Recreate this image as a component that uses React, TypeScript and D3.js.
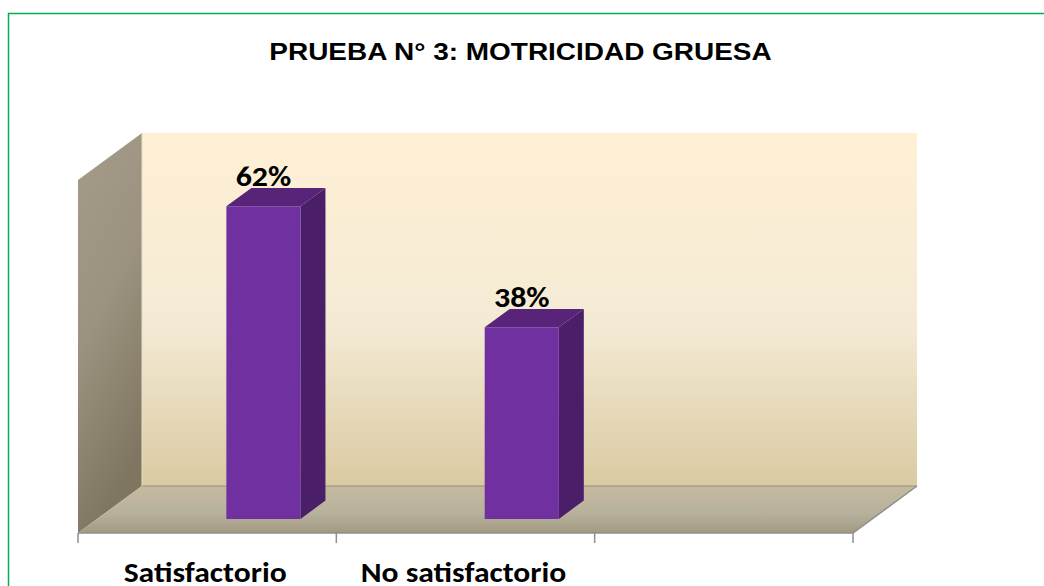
import React from 'react';
import * as d3 from 'd3';

const categories = ['Satisfactorio', 'No satisfactorio', ''];
const values = [62, 38, null];
const valueLabels = ['62%', '38%', ''];
const title = 'PRUEBA N° 3: MOTRICIDAD GRUESA';

const W = 1044;
const H = 586;

// plot box (front plane) and oblique depth vector
const left = 78, right = 853, base = 533;
const depthX = 64, depthY = 47;
const wallHeight = 353;

export default function App() {
  const x = d3.scaleBand<string>().domain(categories).range([left, right]).paddingInner(0).paddingOuter(0);
  const y = d3.scaleLinear().domain([0, 70]).range([0, wallHeight]);

  // project a point at plane x, value height h, depth fraction d
  const P = (px: number, h: number, d: number) => [px + d * depthX, base - d * depthY - h];
  const pts = (arr: number[][]) => arr.map(p => p.join(',')).join(' ');

  const backL = left + depthX, backR = right + depthX, backB = base - depthY, backT = backB - wallHeight;

  const bw = x.bandwidth();
  const barW = bw * 0.287;
  const d0 = 0.3, d1 = 0.69;
  const labelFont = "Carlito, Calibri, Lato, sans-serif";

  return (
    <svg width={W} height={H} style={{ position: 'absolute', left: 0, top: 0 }}>
      <defs>
        <linearGradient id="back" x1="0" y1="0" x2="0" y2="1">
          <stop offset="0" stopColor="#FFF0D5" />
          <stop offset="0.55" stopColor="#F4EAD4" />
          <stop offset="1" stopColor="#DACAA2" />
        </linearGradient>
        <linearGradient id="side" x1="0" y1="0" x2="0.3" y2="1">
          <stop offset="0" stopColor="#A49B88" />
          <stop offset="0.5" stopColor="#9B937F" />
          <stop offset="1" stopColor="#7F7661" />
        </linearGradient>
        <linearGradient id="floor" x1="0" y1="0" x2="0" y2="1">
          <stop offset="0" stopColor="#C6BA9E" />
          <stop offset="0.6" stopColor="#B6B19C" />
          <stop offset="1" stopColor="#A29880" />
        </linearGradient>
      </defs>
      <rect x={0} y={0} width={W} height={H} fill="#fff" />
      <rect x={8.5} y={13.5} width={1100} height={700} fill="none" stroke="#00B050" strokeWidth={1.5} />

      <text transform="translate(520.5,60) scale(1.19,1)" textAnchor="middle" fontFamily="'Liberation Sans', Arial, sans-serif" fontWeight="bold" fontSize={23.5} fill="#000">{title}</text>

      {/* back wall */}
      <rect x={backL} y={backT} width={backR - backL} height={wallHeight} fill="url(#back)" />
      {/* side wall */}
      <polygon points={pts([[left, base - wallHeight], [backL, backT], [backL, backB], [left, base]])} fill="url(#side)" />
      {/* floor */}
      <polygon points={pts([[left, base], [backL, backB], [backR, backB], [right, base]])} fill="url(#floor)" />
      <line x1={backL} x2={backR} y1={backB} y2={backB} stroke="#8E8E8E" strokeWidth={1} />
      <polyline points={pts([[left, base], [right, base], [backR, backB]])} fill="none" stroke="#8E8E8E" strokeWidth={1.5} />
      <line x1={backL} x2={backL} y1={backT} y2={backB} stroke="#E8DDC6" strokeWidth={1} />

      {/* tick marks */}
      {[...categories.map(c => x(c) as number), right].map((t, i) => (
        <line key={i} x1={t} x2={t} y1={base} y2={base + 10} stroke="#8E8E8E" strokeWidth={1.5} />
      ))}

      {/* bars */}
      {categories.map((c, i) => {
        const v = values[i];
        if (v == null) return null;
        const x0 = (x(c) as number) + bw * 0.5;
        const x1 = x0 + barW;
        const h = y(v);
        const front = [P(x0, h, d0), P(x1, h, d0), P(x1, 0, d0), P(x0, 0, d0)];
        const side = [P(x1, h, d0), P(x1, h, d1), P(x1, 0, d1), P(x1, 0, d0)];
        const top = [P(x0, h, d0), P(x0, h, d1), P(x1, h, d1), P(x1, h, d0)];
        const lx = P(x0 + barW / 2, h, d0)[0];
        const ly = P(0, h, d1)[1] - 2;
        return (
          <g key={c}>
            <polygon points={pts(side)} fill="#4A1E68" />
            <polygon points={pts(top)} fill="#572479" />
            <polygon points={pts(front)} fill="#7030A0" />
            <text transform={`translate(${lx},${ly}) scale(1.1,1)`} textAnchor="middle"
              fontFamily={labelFont} fontWeight="bold" fontSize={29} fill="#000">{valueLabels[i]}</text>
          </g>
        );
      })}

      {/* category labels */}
      {categories.map(c => (
        <text key={c} transform={`translate(${(x(c) as number) + bw / 2 - 2},582) scale(1.09,1)`} textAnchor="middle"
          fontFamily={labelFont} fontWeight="bold" fontSize={29} fill="#000">{c}</text>
      ))}
    </svg>
  );
}
